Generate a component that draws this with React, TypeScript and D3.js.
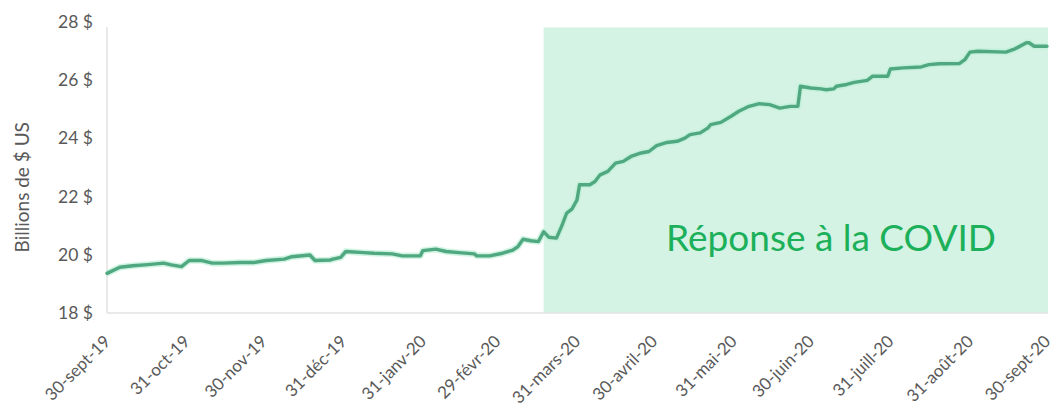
import React from "react";
import * as d3 from "d3";

const dates: string[] = [
  "2019-09-30","2019-10-05","2019-10-10","2019-10-16","2019-10-22","2019-10-25","2019-10-29",
  "2019-11-01","2019-11-06","2019-11-10","2019-11-14","2019-11-21","2019-11-26",
  "2019-12-01","2019-12-08","2019-12-11","2019-12-18","2019-12-20","2019-12-26","2019-12-27","2019-12-30",
  "2020-01-01","2020-01-08","2020-01-12","2020-01-19","2020-01-23","2020-01-30","2020-01-31",
  "2020-02-05","2020-02-09","2020-02-14","2020-02-20","2020-02-21","2020-02-26",
  "2020-03-02","2020-03-06","2020-03-08","2020-03-10","2020-03-13","2020-03-16","2020-03-18","2020-03-20",
  "2020-03-23","2020-03-25","2020-03-27","2020-03-29","2020-03-31",
  "2020-04-01","2020-04-05","2020-04-07","2020-04-09","2020-04-12","2020-04-15","2020-04-18","2020-04-21",
  "2020-04-25","2020-04-28",
  "2020-05-01","2020-05-05","2020-05-09","2020-05-12","2020-05-14","2020-05-18","2020-05-21","2020-05-22",
  "2020-05-26","2020-05-30",
  "2020-06-02","2020-06-06","2020-06-10","2020-06-14","2020-06-18","2020-06-22","2020-06-25","2020-06-26","2020-06-30",
  "2020-07-04","2020-07-06","2020-07-09","2020-07-10","2020-07-14","2020-07-17","2020-07-22","2020-07-24","2020-07-30","2020-07-31",
  "2020-08-05","2020-08-12","2020-08-15","2020-08-19","2020-08-27","2020-08-29","2020-08-31",
  "2020-09-03","2020-09-14","2020-09-17","2020-09-19","2020-09-22","2020-09-23","2020-09-25","2020-09-30",
];

const values: number[] = [
  19.36,19.57,19.62,19.66,19.71,19.65,19.59,
  19.8,19.8,19.71,19.71,19.73,19.73,
  19.8,19.85,19.93,19.99,19.8,19.82,19.85,19.91,
  20.11,20.07,20.05,20.03,19.96,19.96,20.14,
  20.19,20.11,20.07,20.03,19.96,19.96,
  20.05,20.16,20.28,20.53,20.48,20.45,20.79,20.6,
  20.57,20.97,21.43,21.56,21.88,
  22.4,22.4,22.51,22.74,22.86,23.14,23.2,23.37,
  23.49,23.54,
  23.74,23.85,23.89,24.0,24.12,24.18,24.35,24.46,
  24.54,24.75,
  24.92,25.09,25.18,25.15,25.03,25.09,25.09,25.78,25.72,
  25.69,25.66,25.69,25.78,25.84,25.91,25.98,26.12,26.12,26.37,
  26.41,26.44,26.52,26.55,26.56,26.69,26.95,
  26.98,26.95,27.04,27.13,27.27,27.27,27.15,27.15,
];

const tickDates: string[] = [
  "2019-09-30","2019-10-31","2019-11-30","2019-12-31","2020-01-31","2020-02-29",
  "2020-03-31","2020-04-30","2020-05-31","2020-06-30","2020-07-31","2020-08-31","2020-09-30",
];
const tickLabels: string[] = [
  "30-sept-19","31-oct-19","30-nov-19","31-déc-19","31-janv-20","29-févr-20",
  "31-mars-20","30-avril-20","31-mai-20","30-juin-20","31-juill-20","31-août-20","30-sept-20",
];
const yTicks: number[] = [18, 20, 22, 24, 26, 28];

const covidStart = "2020-03-18";
const covidEnd = "2020-09-30";
const covidTop = 27.8;
const covidLabel = "Réponse à la COVID";
const yTitle = "Billions de $ US";

const W = 1059;
const H = 413;
const FONT = "Lato, 'Open Sans', 'DejaVu Sans', sans-serif";

export default function App() {
  const parse = d3.timeParse("%Y-%m-%d");
  const x = d3
    .scaleTime()
    .domain([parse("2019-09-30")!, parse("2020-09-30")!])
    .range([107, 1047]);
  const y = d3.scaleLinear().domain([18, 28]).range([313, 21.5]);

  const pts = dates.map((d, i) => [x(parse(d)!), y(values[i])] as [number, number]);
  const line = d3.line<[number, number]>()(pts) || "";

  const sx0 = x(parse(covidStart)!);
  const sx1 = x(parse(covidEnd)!) + 1;
  const sy0 = y(covidTop);
  const sy1 = y(18);

  return (
    <svg
      width={W}
      height={H}
      style={{ position: "absolute", left: 0, top: 0, background: "#fff" }}
      fontFamily={FONT}
    >
      <rect x={sx0} y={sy0} width={sx1 - sx0} height={sy1 - sy0} fill="#d4f3e4" />
      <line x1={107} x2={107} y1={sy0} y2={y(18)} stroke="#e3e3e3" strokeWidth={1.5} />
      <line x1={107} x2={sx1} y1={y(18)} y2={y(18)} stroke="#e3e3e3" strokeWidth={1.5} />
      <path d={line} fill="none" stroke="#bdf0d6" strokeWidth={6.5} strokeLinejoin="round" opacity={0.7} />
      <path d={line} fill="none" stroke="#50a880" strokeWidth={3.4} strokeLinejoin="round" strokeLinecap="round" />
      {yTicks.map((t) => (
        <text key={t} x={93} y={y(t)} dy="0.35em" textAnchor="end" fontSize={17.5} fill="#595959">
          {`${t} $`}
        </text>
      ))}
      <text
        transform={`translate(22, ${(y(18) + y(28)) / 2 + 20}) rotate(-90)`}
        textAnchor="middle"
        dy="0.35em"
        fontSize={19}
        fill="#595959"
      >
        {yTitle}
      </text>
      {tickDates.map((d, i) => {
        const tx = x(parse(d)!);
        return (
          <text
            key={d}
            transform={`translate(${tx - 4}, 334) rotate(-45)`}
            textAnchor="end"
            dy="0.7em"
            fontSize={17}
            fill="#595959"
          >
            {tickLabels[i]}
          </text>
        );
      })}
      <text x={666} y={251} fontSize={37} fill="#1cb05a">
        {covidLabel}
      </text>
    </svg>
  );
}
